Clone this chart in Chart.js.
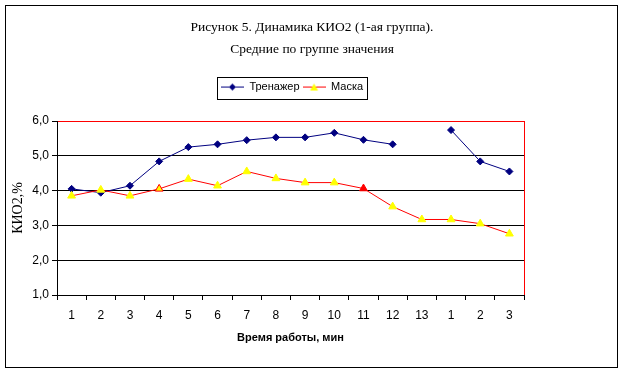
<!DOCTYPE html>
<html>
<head>
<meta charset="utf-8">
<script src="https://cdn.jsdelivr.net/npm/chart.js@4.4.1/dist/chart.umd.min.js"></script>
<style>
  html, body { margin: 0; padding: 0; background: #fff; }
  canvas { display: block; }
</style>
</head>
<body>
<canvas id="chart" width="624" height="374"></canvas>
<script>
// Chart data
const titleLines = ['Рисунок 5. Динамика КИО2 (1-ая группа).', 'Средние по группе значения'];
const categories = ['1', '2', '3', '4', '5', '6', '7', '8', '9', '10', '11', '12', '13', '1', '2', '3'];
const trainerLabel = 'Тренажер';
const trainerValues = [4.05, 3.94, 4.14, 4.84, 5.25, 5.33, 5.45, 5.53, 5.53, 5.66, 5.46, 5.33, null, 5.74, 4.84, 4.55];
const maskLabel = 'Маска';
const maskValues = [3.85, 4.02, 3.85, 4.05, 4.33, 4.14, 4.55, 4.35, 4.23, 4.23, 4.06, 3.54, 3.17, 3.17, 3.05, 2.76];
const yMin = 1;
const yMax = 6;
const yStep = 1;
const xTitle = 'Время работы, мин';
const yTitle = 'КИО2,%';

const NAVY = '#000080';
const RED = '#FF0000';
const YELLOW = '#FFFF00';
const SANS = 'Arial, "Liberation Sans", sans-serif';
const SERIF = '"Times New Roman", "Liberation Serif", serif';

// per-point marker colours of the Маска series (point 4 outlined red, point 11 filled red)
const maskFill = maskValues.map((v, i) => (i === 10 ? RED : YELLOW));
const maskStroke = maskValues.map((v, i) => (i === 3 || i === 10 ? RED : YELLOW));

// small line+marker pictures for the legend, like Excel draws them
function legendSymbol(lineColor, marker) {
  const c = document.createElement('canvas');
  c.width = 23;
  c.height = 11;
  const g = c.getContext('2d');
  g.strokeStyle = lineColor;
  g.lineWidth = 1;
  g.beginPath();
  g.moveTo(0, 5.5);
  g.lineTo(23, 5.5);
  g.stroke();
  g.beginPath();
  if (marker === 'diamond') {
    g.moveTo(11.5, 2);
    g.lineTo(15, 5.5);
    g.lineTo(11.5, 9);
    g.lineTo(8, 5.5);
    g.fillStyle = NAVY;
  } else {
    g.moveTo(11.5, 2);
    g.lineTo(15.5, 9);
    g.lineTo(7.5, 9);
    g.fillStyle = YELLOW;
  }
  g.closePath();
  g.fill();
  return c;
}

const trainerSymbol = legendSymbol(NAVY, 'diamond');
const maskSymbol = legendSymbol(RED, 'triangle');

// outer frame, legend box, red plot border on the right
const framePlugin = {
  id: 'frame',
  afterLayout(chart) {
    // Excel put the legend a little left of centre
    chart.legend.left -= 20;
    chart.legend.right -= 20;
  },
  beforeDatasetsDraw(chart) {
    const { ctx, chartArea } = chart;
    const x = Math.round(chartArea.right) + 0.5;
    ctx.save();
    ctx.strokeStyle = RED;
    ctx.lineWidth = 1;
    ctx.beginPath();
    ctx.moveTo(x, Math.round(chartArea.top));
    ctx.lineTo(x, Math.round(chartArea.bottom));
    ctx.stroke();
    ctx.restore();
  },
  afterDraw(chart) {
    const { ctx } = chart;
    ctx.save();
    ctx.strokeStyle = '#000';
    ctx.lineWidth = 1;
    ctx.strokeRect(5.5, 5.5, 612, 362);
    const boxes = chart.legend.legendHitBoxes;
    if (boxes && boxes.length) {
      const left = Math.min(...boxes.map(b => b.left)) - 4;
      const right = Math.max(...boxes.map(b => b.left + b.width)) + 4;
      const top = boxes[0].top - 5;
      const bottom = boxes[0].top + boxes[0].height + 6;
      ctx.strokeRect(Math.round(left) + 0.5, Math.round(top) + 0.5, Math.round(right - left), Math.round(bottom - top));
    }
    ctx.restore();
  }
};

new Chart(document.getElementById('chart'), {
  type: 'line',
  data: {
    labels: categories,
    datasets: [
      {
        label: trainerLabel,
        data: trainerValues,
        borderColor: NAVY,
        backgroundColor: NAVY,
        borderWidth: 1,
        pointStyle: 'rectRot',
        pointRadius: 3.5,
        pointBorderWidth: 1,
        pointBorderColor: NAVY,
        pointBackgroundColor: NAVY,
        spanGaps: false,
        tension: 0,
        order: 1
      },
      {
        label: maskLabel,
        data: maskValues,
        borderColor: RED,
        backgroundColor: YELLOW,
        borderWidth: 1,
        pointStyle: 'triangle',
        pointRadius: 4.5,
        pointBorderWidth: 1,
        pointBorderColor: maskStroke,
        pointBackgroundColor: maskFill,
        tension: 0,
        order: 0
      }
    ]
  },
  options: {
    responsive: false,
    animation: false,
    layout: { padding: { top: 10, left: 8, right: 8, bottom: 10 } },
    plugins: {
      tooltip: { enabled: false },
      title: {
        display: true,
        text: titleLines,
        color: '#000',
        font: { family: SERIF, size: 13.5, weight: 'normal', lineHeight: 1.63 },
        padding: { top: 6, bottom: 18.5 }
      },
      legend: {
        display: true,
        position: 'top',
        labels: {
          color: '#000',
          font: { family: SANS, size: 11 },
          usePointStyle: true,
          pointStyleWidth: 23,
          padding: 3,
          generateLabels: () => [
            { text: trainerLabel, pointStyle: trainerSymbol, fillStyle: NAVY, strokeStyle: NAVY, lineWidth: 0, datasetIndex: 0 },
            { text: maskLabel, pointStyle: maskSymbol, fillStyle: YELLOW, strokeStyle: RED, lineWidth: 0, datasetIndex: 1 }
          ]
        }
      }
    },
    scales: {
      x: {
        type: 'category',
        position: 'bottom',
        offset: true,
        grid: {
          display: true,
          offset: true,
          drawOnChartArea: false,
          drawTicks: true,
          tickLength: 5,
          tickColor: '#000'
        },
        border: { display: true, color: '#000', width: 1 },
        ticks: { color: '#000', font: { family: SANS, size: 12 }, padding: 8, maxRotation: 0, autoSkip: false },
        title: {
          display: true,
          text: xTitle,
          color: '#000',
          font: { family: SANS, size: 11, weight: 'bold' },
          padding: { top: 0, bottom: 19 }
        },
        afterFit(scale) { scale.height = 69; }
      },
      xTop: {
        type: 'linear',
        position: 'top',
        display: true,
        grid: { display: false },
        border: { display: false },
        ticks: { display: false },
        afterFit(scale) { scale.height = 18.5; }
      },
      y: {
        type: 'linear',
        position: 'left',
        min: yMin,
        max: yMax,
        grid: {
          color: ctx => (ctx.tick && ctx.tick.value === yMax ? RED : '#000'),
          tickColor: '#000',
          tickLength: 5,
          lineWidth: 1
        },
        border: { display: true, color: '#000', width: 1 },
        ticks: {
          stepSize: yStep,
          color: '#000',
          font: { family: SANS, size: 12 },
          padding: 3,
          callback: v => v.toFixed(1).replace('.', ',')
        },
        title: {
          display: true,
          text: yTitle,
          color: '#000',
          font: { family: SERIF, size: 14 },
          padding: { top: 2, bottom: 0 }
        },
        afterFit(scale) { scale.width = 49; }
      },
      yRight: {
        type: 'linear',
        position: 'right',
        display: true,
        grid: { display: false },
        border: { display: false },
        ticks: { display: false },
        afterFit(scale) { scale.width = 92; }
      }
    }
  },
  plugins: [framePlugin]
});
</script>
</body>
</html>
